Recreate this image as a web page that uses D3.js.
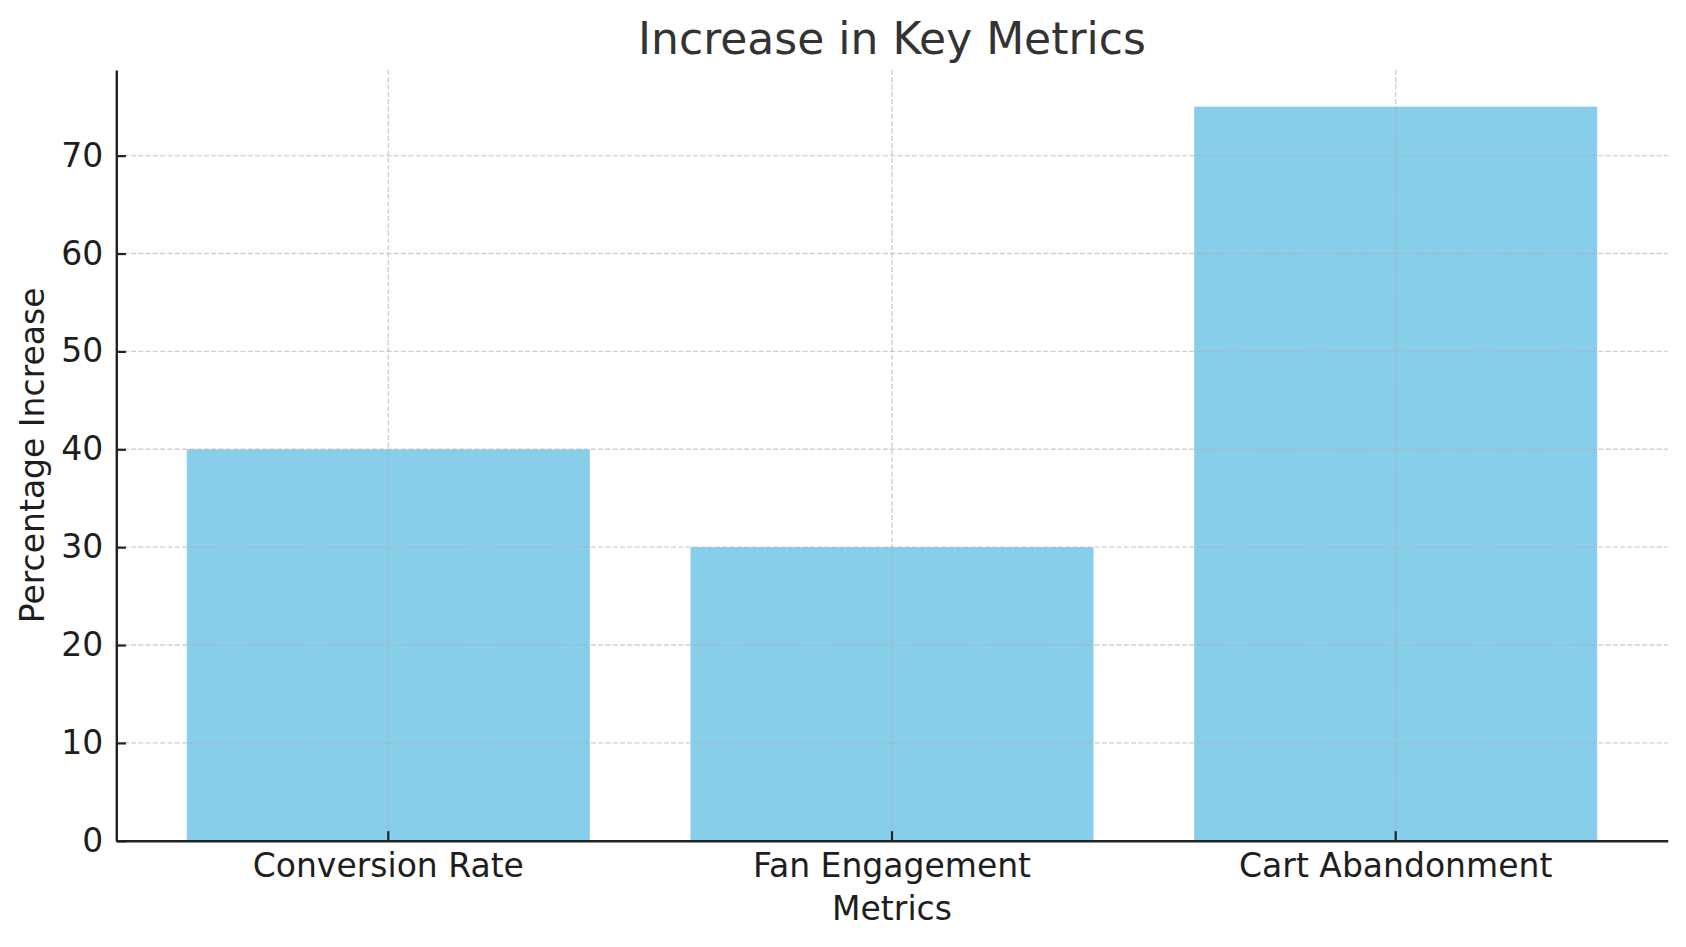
<!DOCTYPE html>
<html lang="en">
<head>
    <meta charset="UTF-8">
    <title>Increase in Key Metrics</title>
    <script src="https://d3js.org/d3.v7.min.js"></script>
    <style>
        body { margin: 0; background: #fff; }
        svg { display: block; font-family: "DejaVu Sans", sans-serif; }
        .axis text { font-size: 33px; fill: #1e1e1e; font-family: "DejaVu Sans", sans-serif; }
        .axis path, .axis line { stroke: #222; }
        .grid line { stroke: #b0b0b0; stroke-opacity: 0.6; stroke-width: 1.4; stroke-dasharray: 5.1 2.2; }
    </style>
</head>
<body>
    <svg width="1686" height="947"></svg>
    <script>
        const categories = ["Conversion Rate", "Fan Engagement", "Cart Abandonment"];
        const values = [40, 30, 75];
        const yTicks = [0, 10, 20, 30, 40, 50, 60, 70];

        const margin = {top: 70, right: 18.3, bottom: 106.2, left: 116.3},
              W = 1686, H = 947,
              width = W - margin.left - margin.right,
              height = H - margin.top - margin.bottom;

        const svg = d3.select("svg");
        const g = svg.append("g")
            .attr("transform", `translate(${margin.left}, ${margin.top})`);

        const x = d3.scaleBand()
            .domain(categories)
            .range([0, width])
            .paddingInner(0.2)
            .paddingOuter(0.14);

        const y = d3.scaleLinear()
            .domain([0, d3.max(values) * 1.05])
            .range([height, 0]);

        // bars
        g.selectAll(".bar")
            .data(categories)
            .enter().append("rect")
            .attr("class", "bar")
            .attr("x", d => x(d))
            .attr("y", (d, i) => y(values[i]))
            .attr("width", x.bandwidth())
            .attr("height", (d, i) => height - y(values[i]))
            .attr("fill", "#87ceeb");

        // grid on top of the bars
        const grid = g.append("g").attr("class", "grid");
        grid.selectAll(".hg")
            .data(yTicks)
            .enter().append("line")
            .attr("x1", 0).attr("x2", width)
            .attr("y1", d => y(d)).attr("y2", d => y(d));
        grid.selectAll(".vg")
            .data(categories)
            .enter().append("line")
            .attr("x1", d => x(d) + x.bandwidth() / 2)
            .attr("x2", d => x(d) + x.bandwidth() / 2)
            .attr("y1", 0).attr("y2", height);

        // axes, ticks pointing inward
        g.append("g")
            .attr("class", "axis axis--y")
            .call(d3.axisLeft(y).tickValues(yTicks).tickSize(-9.6).tickSizeOuter(0).tickPadding(13))
            .call(a => a.select(".domain").attr("stroke-width", 2.4))
            .call(a => a.selectAll(".tick line").attr("stroke-width", 2.2));

        g.append("g")
            .attr("class", "axis axis--x")
            .attr("transform", `translate(0, ${height})`)
            .call(d3.axisBottom(x).tickSize(-9.6).tickSizeOuter(0).tickPadding(12.3))
            .call(a => a.select(".domain").attr("stroke-width", 2.4))
            .call(a => a.selectAll(".tick line").attr("stroke-width", 2.2));

        // title and axis labels
        svg.append("text")
            .attr("x", margin.left + width / 2)
            .attr("y", 54)
            .attr("text-anchor", "middle")
            .attr("font-size", 44)
            .attr("fill", "#333")
            .text("Increase in Key Metrics");

        svg.append("text")
            .attr("x", margin.left + width / 2)
            .attr("y", 920)
            .attr("text-anchor", "middle")
            .attr("font-size", 33)
            .attr("fill", "#1e1e1e")
            .text("Metrics");

        svg.append("text")
            .attr("transform", `translate(43.5, ${margin.top + height / 2}) rotate(-90)`)
            .attr("text-anchor", "middle")
            .attr("font-size", 33)
            .attr("fill", "#1e1e1e")
            .text("Percentage Increase");
    </script>
</body>
</html>
